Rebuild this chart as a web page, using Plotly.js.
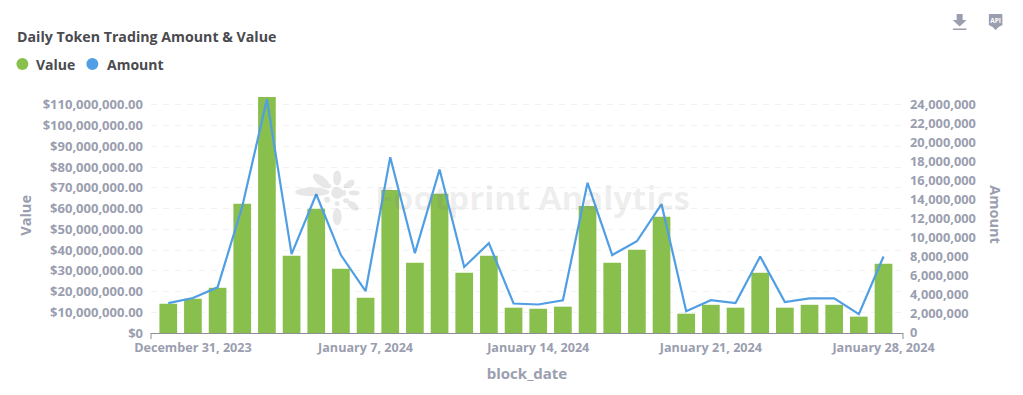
<!DOCTYPE html>
<html><head><meta charset="utf-8">
<script src="https://cdn.plot.ly/plotly-3.0.1.min.js"></script>
<style>html,body{margin:0;padding:0;background:#fff;overflow:hidden}#chart{width:1023px;height:395px}</style>
</head><body><div id="chart"></div>
<script>
const dates = ["2023-12-30","2023-12-31","2024-01-01","2024-01-02","2024-01-03","2024-01-04","2024-01-05","2024-01-06","2024-01-07","2024-01-08","2024-01-09","2024-01-10","2024-01-11","2024-01-12","2024-01-13","2024-01-14","2024-01-15","2024-01-16","2024-01-17","2024-01-18","2024-01-19","2024-01-20","2024-01-21","2024-01-22","2024-01-23","2024-01-24","2024-01-25","2024-01-26","2024-01-27","2024-01-28"];
const valueSeries = [14.1,16.5,21.8,62.3,118,37.2,59.9,31,17,69,33.9,67.1,29,37.2,12.2,11.7,12.7,61.3,33.9,40.1,56,9.3,13.6,12.2,29,12.2,13.6,13.6,7.9,33.4].map(v=>v*1e6);
const amountSeries = [3.15,3.68,4.8,13.3,24.6,8.3,14.6,8.2,4.4,18.5,8.4,17.2,6.95,9.45,3.1,3.0,3.45,15.8,8.2,9.65,13.55,2.3,3.45,3.15,8.05,3.25,3.65,3.65,1.98,8.05].map(v=>v*1e6);
const xTickVals = ["2023-12-31","2024-01-07","2024-01-14","2024-01-21","2024-01-28"];
const xTickText = ["December 31, 2023","January 7, 2024","January 14, 2024","January 21, 2024","January 28, 2024"];
const leftTickVals = [0,10,20,30,40,50,60,70,80,90,100,110].map(v=>v*1e6);
const leftTickText = leftTickVals.map(v=> v===0 ? "$0" : "$"+v.toLocaleString("en-US")+".00");
const rightTickVals = [0,2,4,6,8,10,12,14,16,18,20,22,24].map(v=>v*1e6);
const rightTickText = rightTickVals.map(v=>v.toLocaleString("en-US"));

const FONT = '"Open Sans", "Noto Sans", sans-serif';
const GREY = "#9a9eaf", DARK = "#4a4a4f", GREEN = "#88bf4d", BLUE = "#509ee3";
const DAY = 86400000;

const petals = [[17,27,17,4.5,0],[26,16,10,4.5,38],[42,13,4,7.5,0],[55,19,5,3.5,-40],[59,28,5.5,2.5,0],[58,41,6.5,3.5,40],[42,52,4.5,8.5,0],[42,28,6,6,0],[33,21,3,2.5,0],[51,21,2.5,2.5,0],[32,35,3,3,0],[42,39,2.5,2.5,0],[51,36,3,2.5,0],[49,28,1.8,3,0]];
const logo = "data:image/svg+xml;utf8," + encodeURIComponent('<svg xmlns="http://www.w3.org/2000/svg" viewBox="0 0 70 62"><g fill="#000">' + petals.map(p=>'<ellipse cx="'+p[0]+'" cy="'+p[1]+'" rx="'+p[2]+'" ry="'+p[3]+'" transform="rotate('+p[4]+' '+p[0]+' '+p[1]+')"/>').join('') + '</g></svg>');
const dl = "data:image/svg+xml;utf8," + encodeURIComponent('<svg xmlns="http://www.w3.org/2000/svg" viewBox="0 0 14 16"><path fill="#9a9eaf" d="M4 0h6v6h4l-7 6.5L0 6h4zM0 14.5h14V16H0z"/></svg>');
const api = "data:image/svg+xml;utf8," + encodeURIComponent('<svg xmlns="http://www.w3.org/2000/svg" viewBox="0 0 14 16"><path fill="#9a9eaf" d="M1 0h12a1 1 0 0 1 1 1v10l-4 2-3 3-3-3-4-2V1a1 1 0 0 1 1-1z"/><text x="7" y="8.5" font-size="6.5" font-family="Open Sans" font-weight="700" fill="#fff" text-anchor="middle">API</text></svg>');

const W=1023,H=395,L=150.7,R=903.3,T=97,B=333.3;
const px = x=>(x-L)/(R-L), py = y=>(B-y)/(B-T), sx = w=>w/(R-L), sy = h=>h/(B-T);

const traces = [
 {type:"bar",name:"Value",x:dates,y:valueSeries,yaxis:"y",marker:{color:GREEN,line:{width:0}},width:0.717*DAY,showlegend:false,hoverinfo:"x+y"},
 {type:"scatter",mode:"lines",name:"Amount",x:dates,y:amountSeries,yaxis:"y2",line:{color:BLUE,width:2.2,shape:"linear"},showlegend:false,hoverinfo:"x+y"}
];
const tickFont = {family:FONT,size:13,color:GREY,weight:700};
const annText = (x,y,text,size,color,anchor,extra)=>Object.assign({xref:"paper",yref:"paper",x:px(x),y:py(y),xanchor:anchor||"left",yanchor:"middle",showarrow:false,text:text,font:{family:FONT,size:size,color:color,weight:700}},extra||{});
const layout = {
 width:W,height:H,paper_bgcolor:"#fff",plot_bgcolor:"#fff",
 margin:{l:L,r:W-R,t:T,b:H-B,pad:0},
 font:{family:FONT,color:GREY,size:13},
 xaxis:{type:"date",range:[new Date(Date.UTC(2023,11,30)-0.70*DAY).toISOString(),new Date(Date.UTC(2024,0,28)+0.79*DAY).toISOString()],tickmode:"array",tickvals:xTickVals,ticktext:xTickText,tickangle:0,
   tickfont:Object.assign({},tickFont,{size:12.6}),showgrid:false,zeroline:false,showline:true,linecolor:"#8f8f93",linewidth:1,ticks:"",ticklabelstandoff:3,
   title:{text:"block_date",font:{family:FONT,size:15,color:GREY,weight:700},standoff:13},automargin:false},
 yaxis:{range:[0,113.8e6],tickmode:"array",tickvals:leftTickVals,ticktext:leftTickText,tickfont:tickFont,ticklabelstandoff:7,
   showgrid:true,gridcolor:"#f2f2f4",griddash:"6px,6px",gridwidth:1,zeroline:false,showline:false,ticks:"",automargin:false},
 yaxis2:{overlaying:"y",side:"right",range:[0,24.83e6],tickmode:"array",tickvals:rightTickVals,ticktext:rightTickText,tickfont:Object.assign({},tickFont,{size:12.8}),ticklabelstandoff:6,
   showgrid:false,zeroline:false,showline:false,ticks:"",automargin:false},
 shapes:[
  {type:"line",xref:"paper",yref:"paper",x0:0,x1:0,y0:py(B),y1:py(B+6),line:{color:"#8f8f93",width:1}},
  {type:"line",xref:"paper",yref:"paper",x0:1,x1:1,y0:py(B),y1:py(B+6),line:{color:"#8f8f93",width:1}},
  {type:"circle",xref:"paper",yref:"paper",x0:px(16),x1:px(28),y0:py(70),y1:py(58),fillcolor:GREEN,line:{width:0}},
  {type:"circle",xref:"paper",yref:"paper",x0:px(86),x1:px(98),y0:py(70),y1:py(58),fillcolor:BLUE,line:{width:0}}
 ],
 annotations:[
  annText(14.5,36,"Daily Token Trading Amount &amp; Value",14.2,DARK),
  annText(34,64.5,"Value",14,DARK),
  annText(104.5,64.5,"Amount",14,DARK),
  annText(25.5,215,"Value",14.5,GREY,"center",{textangle:-90}),
  annText(996,215,"Amount",14.5,GREY,"center",{textangle:90}),
  annText(373,198,"Footprint Analytics",33,"rgba(120,125,130,0.13)")
 ],
 images:[
  {source:logo,xref:"paper",yref:"paper",x:px(295),y:py(165),sizex:sx(70),sizey:sy(62),xanchor:"left",yanchor:"top",opacity:0.09,layer:"above"},
  {source:dl,xref:"paper",yref:"paper",x:px(953),y:py(14),sizex:sx(14),sizey:sy(16),xanchor:"left",yanchor:"top",layer:"above"},
  {source:api,xref:"paper",yref:"paper",x:px(989),y:py(14),sizex:sx(14),sizey:sy(16),xanchor:"left",yanchor:"top",layer:"above"}
 ]
};
Plotly.newPlot("chart",traces,layout,{displayModeBar:false,responsive:false});
</script></body></html>
